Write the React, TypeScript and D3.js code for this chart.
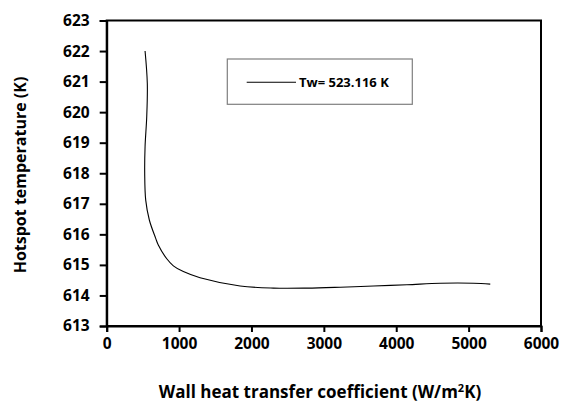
import React, { useEffect, useRef } from "react";
import * as d3 from "d3";

// Wall heat transfer coefficient (W/m²K) and the resulting hotspot temperature (K)
const wallCoeff = [530, 561, 553, 530, 525, 539, 589, 677, 713, 830, 921, 1059, 1290, 1843, 2303, 2765, 3226, 3686, 4148, 4608, 5068, 5299];
const hotspotTemp = [622.0, 620.94, 619.85, 618.87, 618.0, 617.12, 616.47, 615.87, 615.65, 615.2, 614.97, 614.78, 614.58, 614.31, 614.24, 614.24, 614.27, 614.31, 614.35, 614.4, 614.4, 614.37];

const xTicks = [0, 1000, 2000, 3000, 4000, 5000, 6000];
const yTicks = [613, 614, 615, 616, 617, 618, 619, 620, 621, 622, 623];
const seriesLabel = "Tw= 523.116 K";

const W = 568;
const H = 405;
const FONT = "'Open Sans', Lato, sans-serif";

export default function App() {
  const ref = useRef<SVGSVGElement>(null);

  useEffect(() => {
    const svg = d3.select(ref.current);
    svg.selectAll("*").remove();

    const left = 106.7, right = 541, top = 20.5, bottom = 326;
    const x = d3.scaleLinear().domain([0, 6000]).range([left, right]);
    const y = d3.scaleLinear().domain([613, 623]).range([bottom, top]);

    // plot frame
    svg.append("rect")
      .attr("x", left).attr("y", top)
      .attr("width", right - left).attr("height", bottom - top)
      .attr("fill", "none").attr("stroke", "#000").attr("stroke-width", 2);

    const xAxis = svg.append("g")
      .attr("transform", `translate(0,${bottom})`)
      .call(d3.axisBottom(x).tickValues(xTicks).tickSize(6).tickPadding(6).tickFormat(d3.format("d")));
    const yAxis = svg.append("g")
      .attr("transform", `translate(${left},0)`)
      .call(d3.axisLeft(y).tickValues(yTicks).tickSize(7).tickPadding(10).tickFormat(d3.format("d")));

    [xAxis, yAxis].forEach((g) => {
      g.select(".domain").attr("stroke", "#000").attr("stroke-width", 2);
      g.selectAll(".tick line").attr("stroke", "#000").attr("stroke-width", 2);
      g.selectAll(".tick text")
        .attr("fill", "#000")
        .style("font-family", FONT)
        .style("font-weight", "bold")
        .style("font-size", "15.5px");
    });

    // data curve
    const pts: [number, number][] = wallCoeff.map((c, i) => [c, hotspotTemp[i]]);
    const line = d3.line<[number, number]>()
      .x((d) => x(d[0]))
      .y((d) => y(d[1]))
      .curve(d3.curveCatmullRom.alpha(0.5));
    svg.append("path")
      .attr("d", line(pts) ?? "")
      .attr("fill", "none")
      .attr("stroke", "#000")
      .attr("stroke-width", 1.1);

    // legend
    const lg = svg.append("g");
    lg.append("rect")
      .attr("x", 227.3).attr("y", 59)
      .attr("width", 185).attr("height", 45.3)
      .attr("fill", "#fff").attr("stroke", "#7f7f7f").attr("stroke-width", 1.2);
    lg.append("line")
      .attr("x1", 246.7).attr("x2", 296).attr("y1", 82.3).attr("y2", 82.3)
      .attr("stroke", "#000").attr("stroke-width", 1.1);
    lg.append("text")
      .attr("x", 299).attr("y", 86.7)
      .style("font-family", FONT).style("font-weight", "bold").style("font-size", "13px")
      .text(seriesLabel);

    // axis titles
    const xt = svg.append("text")
      .attr("x", 320).attr("y", 398)
      .attr("text-anchor", "middle")
      .style("font-family", FONT).style("font-weight", "bold").style("font-size", "17px");
    xt.append("tspan").text("Wall heat transfer coefficient (W/m");
    xt.append("tspan").attr("font-size", "11px").attr("dy", -6).text("2");
    xt.append("tspan").attr("dy", 6).text("K)");

    svg.append("text")
      .attr("transform", `translate(26,175) rotate(-90)`)
      .attr("text-anchor", "middle")
      .style("font-family", FONT).style("font-weight", "bold").style("font-size", "16px")
      .text("Hotspot temperature (K)");
  }, []);

  return (
    <svg
      ref={ref}
      width={W}
      height={H}
      style={{ position: "absolute", left: 0, top: 0, background: "#fff" }}
    />
  );
}
